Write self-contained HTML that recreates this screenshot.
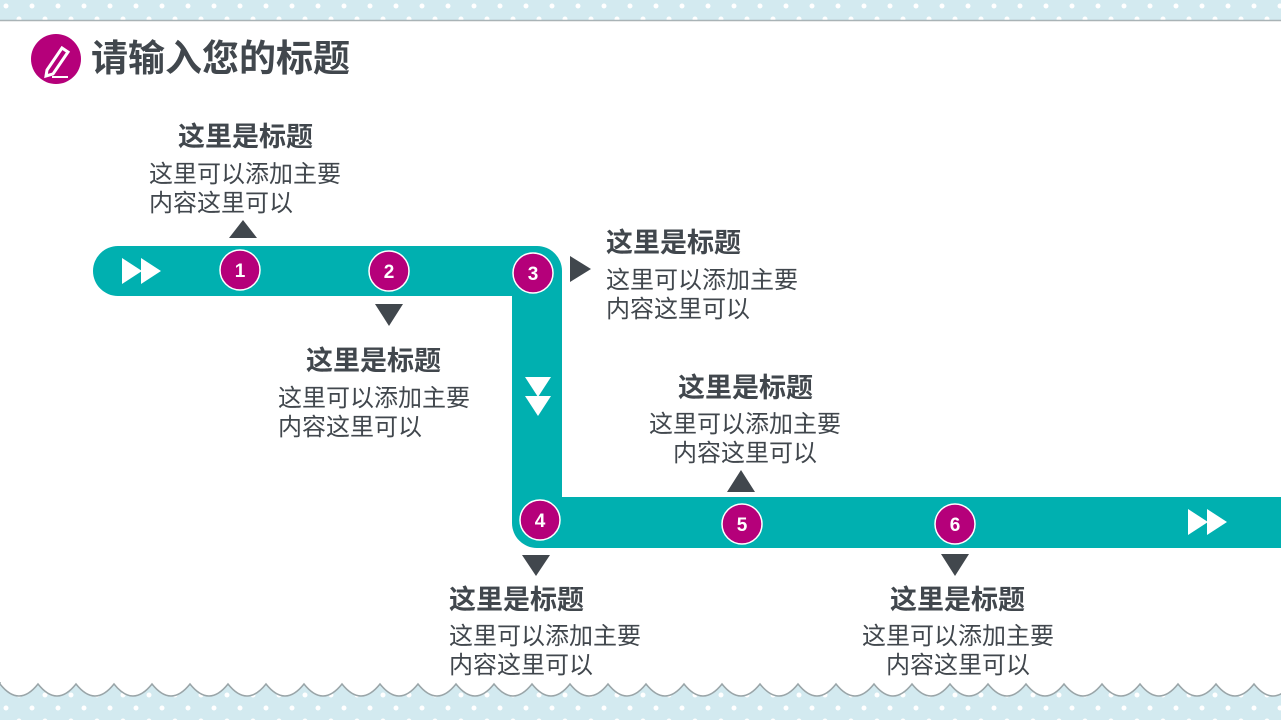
<!DOCTYPE html>
<html><head><meta charset="utf-8"><style>
body{margin:0;width:1281px;height:720px;overflow:hidden;background:#fff;position:relative;font-family:"Liberation Sans","Noto Sans CJK SC",sans-serif;color:#41474d}
.t{position:absolute;font-weight:bold;font-size:27px;line-height:30px;white-space:nowrap}
.b{position:absolute;font-size:24px;line-height:29px;white-space:nowrap}
.c{text-align:center}
</style></head><body>
<svg width="1281" height="720" style="position:absolute;left:0;top:0">
<defs>
<pattern id="dots" width="26" height="26" patternUnits="userSpaceOnUse">
<rect width="26" height="26" fill="#d3eaf0"/>
<circle cx="6" cy="6" r="2.5" fill="#fff"/><circle cx="19" cy="19" r="2.5" fill="#fff"/>
</pattern>
</defs>
<rect x="0" y="0" width="1281" height="20" fill="url(#dots)"/>
<line x1="0" y1="20.5" x2="1281" y2="20.5" stroke="#a9b3b6" stroke-width="1.5"/>
<rect x="0" y="684" width="1281" height="36" fill="url(#dots)"/>
<path d="M0 684 Q19 708 38 684 Q57 708 76 684 Q95 708 114 684 Q133 708 152 684 Q171 708 190 684 Q209 708 228 684 Q247 708 266 684 Q285 708 304 684 Q323 708 342 684 Q361 708 380 684 Q399 708 418 684 Q437 708 456 684 Q475 708 494 684 Q513 708 532 684 Q551 708 570 684 Q589 708 608 684 Q627 708 646 684 Q665 708 684 684 Q703 708 722 684 Q741 708 760 684 Q779 708 798 684 Q817 708 836 684 Q855 708 874 684 Q893 708 912 684 Q931 708 950 684 Q969 708 988 684 Q1007 708 1026 684 Q1045 708 1064 684 Q1083 708 1102 684 Q1121 708 1140 684 Q1159 708 1178 684 Q1197 708 1216 684 Q1235 708 1254 684 Q1273 708 1292 684 L1292 680 L0 680 Z" fill="#fff" stroke="#9aa5a8" stroke-width="1.5"/>
<rect x="0" y="660" width="1281" height="22" fill="#fff"/>
<path d="M118 246 H537 A25 25 0 0 1 562 271 V497 H1281 V548 H537 A25 25 0 0 1 512 523 V296 H118 A25 25 0 0 1 118 246 Z" fill="#00b0b0"/>
<g fill="#fff"><path d="M122 258 L142 271 L122 284 Z"/><path d="M141 258 L161 271 L141 284 Z"/>
<path d="M1188 509 L1208 522 L1188 535 Z"/><path d="M1207 509 L1227 522 L1207 535 Z"/>
<path d="M525 377 L551 377 L538 397 Z"/><path d="M525 396 L551 396 L538 416 Z"/></g>
<g fill="#41474d">
<path d="M229 238 L257 238 L243 220 Z"/>
<path d="M375 304 L403 304 L389 326 Z"/>
<path d="M570 256 L570 282 L591 269 Z"/>
<path d="M522 555 L550 555 L536 576 Z"/>
<path d="M727 492 L755 492 L741 470 Z"/>
<path d="M941 554 L969 554 L955 576 Z"/>
</g>
<g fill="#b5007a" stroke="#fff" stroke-width="1.5">
<circle cx="240" cy="270" r="20"/><circle cx="389" cy="271" r="20"/><circle cx="533" cy="273" r="20"/>
<circle cx="540" cy="520" r="20"/><circle cx="742" cy="524" r="20"/><circle cx="955" cy="524" r="20"/>
</g>
<g fill="#fff" font-family="Liberation Sans,sans-serif" font-weight="bold" font-size="19" text-anchor="middle">
<text x="240" y="277">1</text><text x="389" y="278">2</text><text x="533" y="280">3</text>
<text x="540" y="527">4</text><text x="742" y="531">5</text><text x="955" y="531">6</text>
</g>
<circle cx="56" cy="59" r="25" fill="#b5007a"/>
<g stroke="#fff" fill="none" stroke-width="3">
<path d="M47 70 L62 48 L68 52 L53 74 L46 76 Z"/><line x1="52" y1="77" x2="68" y2="77" stroke-width="2"/>
</g>
</svg>
<div class="t" style="left:91px;top:37px;font-size:37px;line-height:44px">请输入您的标题</div>

<div class="t" style="left:178px;top:122px">这里是标题</div>
<div class="b" style="left:149px;top:160px">这里可以添加主要<br>内容这里可以</div>

<div class="t" style="left:306px;top:346px">这里是标题</div>
<div class="b" style="left:278px;top:384px">这里可以添加主要<br>内容这里可以</div>

<div class="t" style="left:606px;top:228px">这里是标题</div>
<div class="b" style="left:606px;top:266px">这里可以添加主要<br>内容这里可以</div>

<div class="t" style="left:678px;top:373px">这里是标题</div>
<div class="b c" style="left:645px;top:410px;width:200px">这里可以添加主要<br>内容这里可以</div>

<div class="t" style="left:449px;top:585px">这里是标题</div>
<div class="b" style="left:449px;top:622px">这里可以添加主要<br>内容这里可以</div>

<div class="t" style="left:890px;top:585px">这里是标题</div>
<div class="b c" style="left:858px;top:622px;width:200px">这里可以添加主要<br>内容这里可以</div>
</body></html>
